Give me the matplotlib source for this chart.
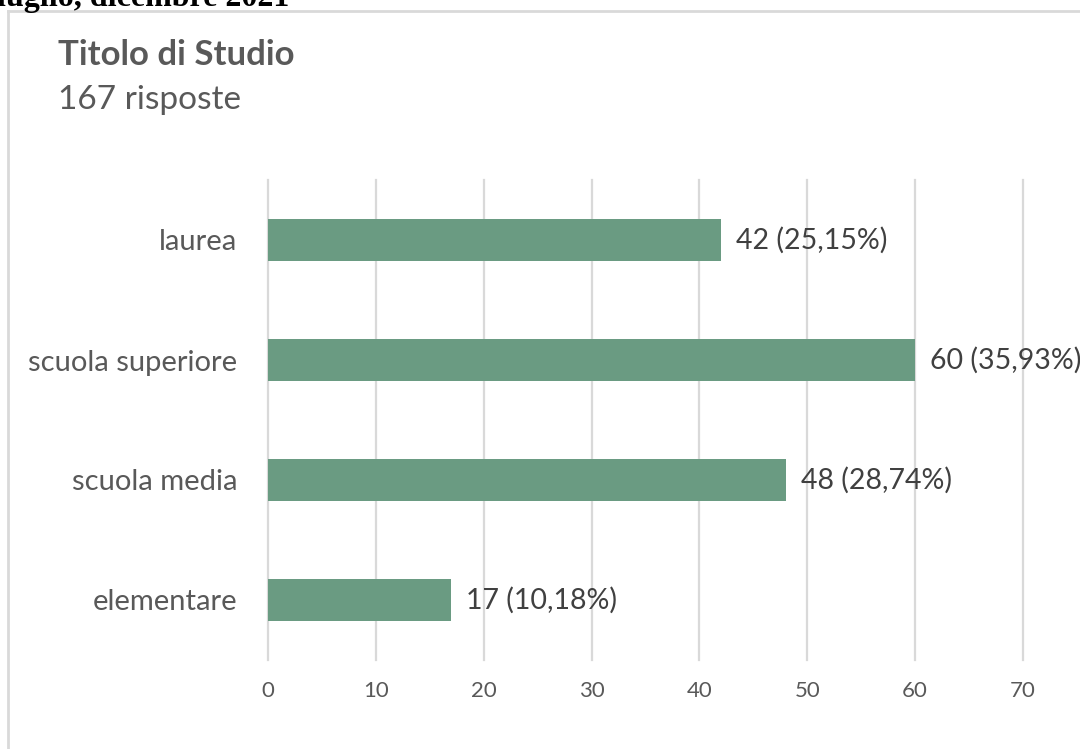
import matplotlib
matplotlib.use('Agg')
import matplotlib.pyplot as plt
from matplotlib.lines import Line2D

categories = ['elementare', 'scuola media', 'scuola superiore', 'laurea']
values = [17, 48, 60, 42]
percent_labels = ['10,18%', '28,74%', '35,93%', '25,15%']
xticks = [0, 10, 20, 30, 40, 50, 60, 70]
title = 'Titolo di Studio'
subtitle = '167 risposte'
header = 'luglio, dicembre 2021'

W, H = 1080, 749
fig = plt.figure(figsize=(W / 100, H / 100), dpi=100)
fig.patch.set_facecolor('white')

FONT = 'Lato'
grid_c = '#d9d9d9'
lab_c = '#595959'
val_c = '#404040'
bar_c = '#6a9b82'

ax = fig.add_axes([268 / W, 1 - 660 / H, (1023 - 268) / W, (660 - 180) / H])
ax.set_xlim(0, 70)
ax.set_ylim(-0.5, 3.5)
for x in xticks:
    ax.axvline(x, color=grid_c, lw=1.6, zorder=0, clip_on=False)
ys = list(range(len(categories)))
ax.barh(ys, values, height=0.35, color=bar_c, zorder=2)
for y, v, p in zip(ys, values, percent_labels):
    ax.text(v + 1.4, y, f'{v} ({p})', va='center', ha='left', fontsize=20.5,
            family=FONT, color=val_c, clip_on=False)

for s in ax.spines.values():
    s.set_visible(False)
ax.set_yticks(ys)
ax.set_yticklabels(categories, fontsize=21, family=FONT, color=lab_c)
ax.set_xticks(xticks)
ax.set_xticklabels([str(t) for t in xticks], fontsize=16, family=FONT, color=lab_c)
ax.tick_params(axis='y', length=0, pad=22)
ax.tick_params(axis='x', length=0, pad=15)

fig.text(58 / W, 1 - 55 / H, title, fontsize=25, fontweight='bold', family=FONT,
         color=lab_c, va='center', ha='left')
fig.text(58 / W, 1 - 100 / H, subtitle, fontsize=24, family=FONT,
         color=lab_c, va='center', ha='left')
fig.text(-3 / W, 1 - 6 / H, header, fontsize=23, fontweight='bold',
         family='Liberation Serif', color='black', va='baseline', ha='left')

fig.add_artist(Line2D([8 / W, 1.0], [1 - 11 / H, 1 - 11 / H], color=grid_c, lw=2,
                      transform=fig.transFigure))
fig.add_artist(Line2D([8 / W, 8 / W], [1 - 11 / H, 0], color=grid_c, lw=2,
                      transform=fig.transFigure))

fig.savefig('out.png', dpi=100, facecolor='white')
